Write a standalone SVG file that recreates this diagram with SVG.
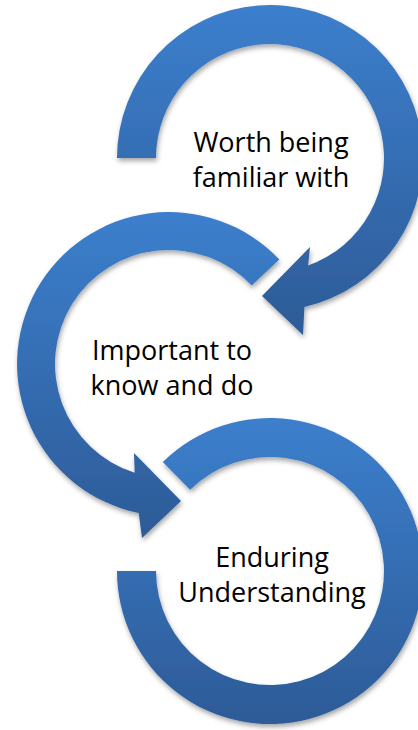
<svg xmlns="http://www.w3.org/2000/svg" width="418" height="730" viewBox="0 0 418 730">
  <style>
    .ring { fill: url(#blueGrad); filter: url(#shadow); }
    .label { font-family: "Open Sans", "Noto Sans", "DejaVu Sans", sans-serif; font-size: 27px; fill: #000000; text-anchor: middle; }
  </style>
  <defs>
    <linearGradient id="blueGrad" x1="0" y1="0" x2="0" y2="1">
      <stop offset="0" stop-color="#3C7FCD"/>
      <stop offset="1" stop-color="#2D5B97"/>
    </linearGradient>
    <filter id="shadow" x="-10%" y="-10%" width="120%" height="120%">
      <feDropShadow dx="1" dy="3" stdDeviation="2.5" flood-color="#000000" flood-opacity="0.35"/>
    </filter>
  </defs>
  <rect width="418" height="730" fill="#ffffff"/>
  <g id="connectors"></g>
  <g id="node-worth">
    <path class="ring" d="M117,158 A153,153 0 1 1 304.4,307.1 L303,335 L262,296 L310,247 L308.1,265.5 A114,114 0 1 0 156,158 Z"/>
    <text class="label"><tspan x="271" y="152">Worth being</tspan><tspan x="271" y="187">familiar with</tspan></text>
  </g>
  <g id="node-important">
    <path class="ring" d="M279.3,259.4 A152,152 0 1 0 138.7,513 L142,538 L181,501 L134,453 L134.7,472.7 A114,114 0 1 1 251.7,285.5 Z"/>
    <text class="label"><tspan x="172" y="360">Important to</tspan><tspan x="172" y="395">know and do</tspan></text>
  </g>
  <g id="node-enduring">
    <path class="ring" d="M117,571 A153,153 0 1 0 162.8,461.9 L190.1,489.7 A114,114 0 1 1 156,571 Z"/>
    <text class="label"><tspan x="272" y="567">Enduring</tspan><tspan x="272" y="602">Understanding</tspan></text>
  </g>
</svg>
